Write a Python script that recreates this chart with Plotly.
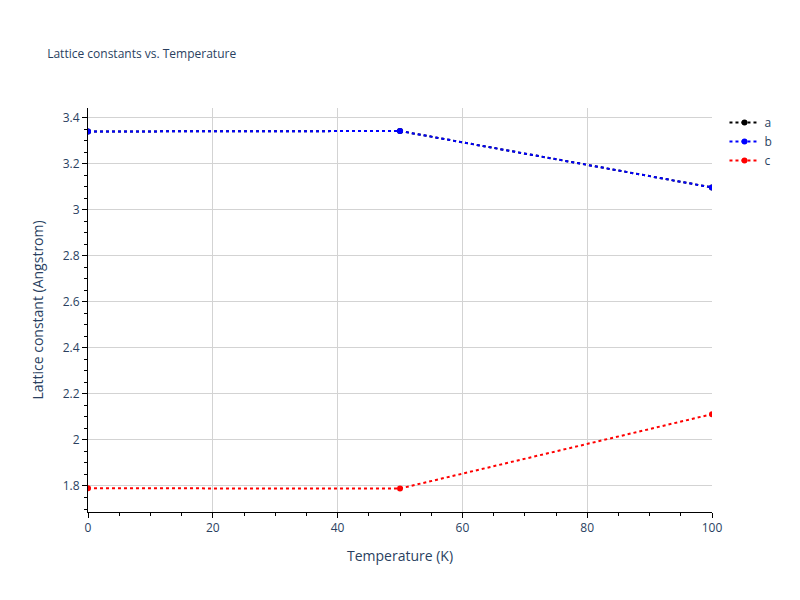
import plotly.graph_objects as go

temps = [0, 50, 100]
a_vals = [3.34, 3.342, 3.097]
b_vals = [3.34, 3.342, 3.097]
c_vals = [1.79, 1.789, 2.112]

fig = go.Figure()
for name, vals, col in [("a", a_vals, "black"), ("b", b_vals, "blue"), ("c", c_vals, "red")]:
    fig.add_trace(go.Scatter(x=temps, y=vals, name=name, mode="lines+markers",
                             line=dict(color=col, dash="dot", width=2),
                             marker=dict(color=col, size=6)))

axis_style = dict(showline=True, linecolor="black", linewidth=1, ticks="outside",
                  tickcolor="black", showgrid=True, gridcolor="lightgray",
                  minor=dict(ticks="outside", tickcolor="black", ticklen=3, showgrid=False),
                  zeroline=False)
fig.update_layout(
    title=dict(text="Lattice constants vs. Temperature", font=dict(size=12), x=0.05),
    plot_bgcolor="white", paper_bgcolor="white",
    margin=dict(l=80, r=80, t=100, b=80),
    xaxis=dict(title="Temperature (K)", range=[0, 100], **axis_style),
    yaxis=dict(title="Lattice constant (Angstrom)", range=[1.687, 3.442], dtick=0.2, **axis_style),
)
fig.write_html("out.html")
